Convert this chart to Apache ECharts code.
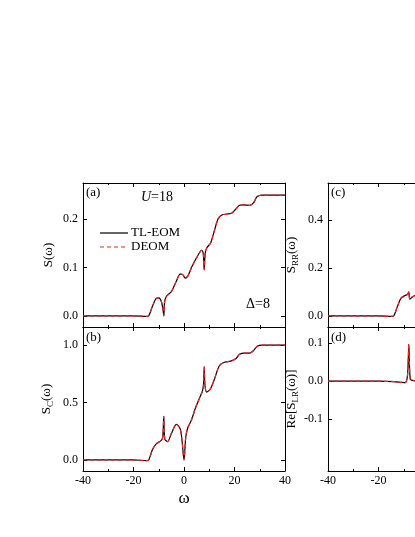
<!DOCTYPE html>
<html>
<head>
<meta charset="utf-8">
<script src="https://cdn.jsdelivr.net/npm/echarts@6/dist/echarts.min.js"></script>
<style>html,body{margin:0;padding:0;background:#fff;overflow:hidden;}#main{width:560px;height:537px;}</style>
</head>
<body>
<div id="main"></div>
<script>
// 各面板数据
var omegaA = [-40, -20, -15, -14, -12.5, -11, -10, -9, -8.3, -8, -7.7, -7, -5, -3, -1.5, -0.5, 0.5, 1.5, 3, 5, 7, 7.6, 8, 8.4, 9, 10.5, 12, 13.5, 15, 17, 19, 20.5, 22, 23.5, 26, 27.5, 29, 31, 40];
var sA = [0, 0, -0.001, 0, 0.02, 0.036, 0.037, 0.03, 0.012, 0, 0.028, 0.04, 0.05, 0.072, 0.086, 0.085, 0.078, 0.082, 0.1, 0.12, 0.135, 0.13, 0.095, 0.13, 0.14, 0.15, 0.175, 0.2, 0.208, 0.21, 0.212, 0.22, 0.228, 0.229, 0.228, 0.233, 0.246, 0.249, 0.249];
var omegaB = [-40, -20, -15, -14, -12.5, -11, -9, -8.4, -8, -7.6, -6.5, -5, -3, -1.5, -0.7, 0, 0.7, 1.5, 3, 4.5, 6, 7.3, 7.7, 8, 8.3, 9, 10.5, 12, 14, 16, 18.5, 20.5, 22, 24, 26, 27.5, 29, 31, 40];
var sB = [0, 0, -0.005, 0, 0.09, 0.14, 0.17, 0.2, 0.38, 0.18, 0.16, 0.23, 0.31, 0.27, 0.15, 0.0, 0.2, 0.28, 0.35, 0.45, 0.53, 0.6, 0.65, 0.81, 0.65, 0.59, 0.62, 0.7, 0.82, 0.85, 0.86, 0.88, 0.92, 0.93, 0.93, 0.95, 0.99, 1.0, 1.0];
var omegaC = [-40, -20, -15, -14, -12.5, -11, -9.5, -8.5, -8, -7.6, -6.5, -5, -3, 0, 3, 6, 8, 10, 14, 18, 22, 26, 30, 40];
var sC = [0, 0, -0.002, 0, 0.04, 0.075, 0.085, 0.09, 0.1, 0.07, 0.08, 0.088, 0.1, 0.12, 0.17, 0.2, 0.26, 0.3, 0.35, 0.38, 0.42, 0.44, 0.48, 0.5];
var omegaD = [-40, -20, -14, -11, -9.5, -8.6, -8.2, -8, -7.8, -7.4, -6.5, -5, -3, 0, 3, 8, 12, 20, 30, 40];
var sD = [0, 0, -0.001, -0.003, -0.004, 0.01, 0.06, 0.097, 0.06, 0.005, 0.002, 0, -0.01, -0.03, 0.01, 0.02, 0, 0, 0, 0];
var yTicksA = [0, 0.1, 0.2];
var yTicksB = [0, 0.5, 1.0];
var yTicksC = [0, 0.2, 0.4];
var yTicksD = [-0.1, 0, 0.1];

function pairs(x, y) {
	var out = [];
	for (var i = 0; i < x.length; i++) out.push([x[i], y[i]]);
	return out;
}

var font = 'Liberation Serif';
var grids = [
	{left: 83, top: 183, width: 202, height: 144},
	{left: 83, top: 327, width: 202, height: 144},
	{left: 328, top: 183, width: 202, height: 144},
	{left: 328, top: 327, width: 202, height: 144}
];
var yCfg = [
	{min: -0.023, max: 0.274, ticks: yTicksA, name: '{n|S(ω)}'},
	{min: -0.096, max: 1.157, ticks: yTicksB, name: '{n|S}{s|C}{n|(ω)}'},
	{min: -0.046, max: 0.554, ticks: yTicksC, name: '{n|S}{s|RR}{n|(ω)}'},
	{min: -0.237, max: 0.143, ticks: yTicksD, name: '{n|Re[S}{s|LR}{n|(ω)]}'}
];
var dataSets = [pairs(omegaA, sA), pairs(omegaB, sB), pairs(omegaC, sC), pairs(omegaD, sD)];

var xAxes = [], yAxes = [], series = [];
for (var g = 0; g < 4; g++) {
	var showX = (g == 1 || g == 3);
	[false, true].forEach(function (mirror) {
		xAxes.push({
			type: 'value', gridIndex: g, min: -40, max: 40, interval: 20,
			position: mirror ? 'top' : 'bottom',
			axisLine: {onZero: false, lineStyle: {color: '#000', width: 1}},
			axisTick: {inside: true, length: 4, lineStyle: {color: '#000'}},
			minorTick: {show: true, splitNumber: 2, length: 2, lineStyle: {color: '#000'}},
			splitLine: {show: false},
			axisLabel: {show: showX && !mirror, color: '#000', fontFamily: font, fontSize: 12, margin: 4},
			name: (g == 1 && !mirror) ? 'ω' : '', nameLocation: 'middle', nameGap: 19,
			nameTextStyle: {color: '#000', fontFamily: font, fontSize: 17}
		});
	});
	var yc = yCfg[g];
	[false, true].forEach(function (mirror) {
		yAxes.push({
			type: 'value', gridIndex: g, min: yc.min, max: yc.max,
			position: mirror ? 'right' : 'left',
			axisLine: {show: true, onZero: false, lineStyle: {color: '#000', width: 1}},
			axisTick: {show: true, inside: true, length: 4, customValues: yc.ticks, lineStyle: {color: '#000'}},
			splitLine: {show: false},
			axisLabel: {show: !mirror, customValues: yc.ticks, color: '#000', fontFamily: font, fontSize: 12, margin: 5,
				formatter: function (v) { return v.toFixed(1); }},
			name: mirror ? '' : yc.name, nameLocation: 'middle', nameGap: 28, nameRotate: 90,
			nameTextStyle: {rich: {
				n: {color: '#000', fontFamily: font, fontSize: 13},
				s: {color: '#000', fontFamily: font, fontSize: 9, padding: [7, 0, 0, 0]}
			}}
		});
	});
	series.push({
		name: 'TL-EOM', type: 'line', xAxisIndex: g * 2, yAxisIndex: g * 2,
		data: dataSets[g], smooth: 0.3, showSymbol: false, z: 2,
		lineStyle: {color: '#000', width: 1.2}
	});
	series.push({
		name: 'DEOM', type: 'line', xAxisIndex: g * 2, yAxisIndex: g * 2,
		data: dataSets[g], smooth: 0.3, showSymbol: false, z: 3,
		lineStyle: {color: '#ff2020', width: 1.2, type: [4, 3]}
	});
}

var txt = {fill: '#000', fontFamily: font, fontSize: 13};
var chart = echarts.init(document.getElementById('main'));
chart.setOption({
	animation: false,
	grid: grids,
	xAxis: xAxes,
	yAxis: yAxes,
	series: series,
	graphic: [
		{type: 'text', left: 86, top: 186, style: Object.assign({text: '(a)'}, txt)},
		{type: 'text', left: 86, top: 331, style: Object.assign({text: '(b)'}, txt)},
		{type: 'text', left: 331, top: 186, style: Object.assign({text: '(c)'}, txt)},
		{type: 'text', left: 331, top: 331, style: Object.assign({text: '(d)'}, txt)},
		{type: 'text', left: 141, top: 190, style: {text: '{i|U}{n|=18}', rich: {
			i: {fill: '#000', fontFamily: font, fontSize: 14, fontStyle: 'italic'},
			n: {fill: '#000', fontFamily: font, fontSize: 14}}}},
		{type: 'text', left: 246, top: 297, style: Object.assign({}, txt, {text: 'Δ=8', fontSize: 14})},
		// 图例
		{type: 'line', shape: {x1: 100, y1: 233, x2: 128, y2: 233}, style: {stroke: '#000', lineWidth: 1.2}},
		{type: 'text', left: 131, top: 226, style: Object.assign({text: 'TL-EOM'}, txt)},
		{type: 'line', shape: {x1: 100, y1: 247, x2: 128, y2: 247}, style: {stroke: '#ff2020', lineWidth: 1.2, lineDash: [4, 3]}},
		{type: 'text', left: 131, top: 240, style: Object.assign({text: 'DEOM'}, txt)}
	]
});
</script>
</body>
</html>
